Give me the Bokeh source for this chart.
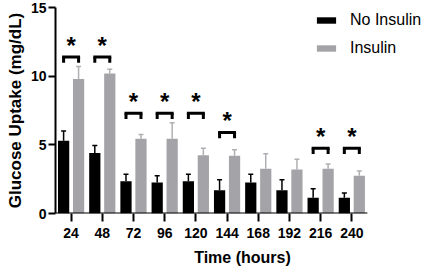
from bokeh.plotting import figure
from bokeh.models import ColumnDataSource, Range1d, Whisker, TeeHead, FixedTicker, Legend, LegendItem
from bokeh.transform import dodge
from bokeh.embed import file_html
from bokeh.resources import INLINE
from bokeh.core.properties import value

times = ["24", "48", "72", "96", "120", "144", "168", "192", "216", "240"]
no_insulin = [5.3, 4.4, 2.35, 2.25, 2.35, 1.7, 2.25, 1.7, 1.15, 1.15]
no_insulin_err = [0.7, 0.55, 0.5, 0.5, 0.5, 0.75, 0.6, 0.75, 0.65, 0.35]
insulin = [9.8, 10.2, 5.45, 5.45, 4.25, 4.2, 3.25, 3.2, 3.25, 2.75]
insulin_err = [0.9, 0.3, 0.3, 1.15, 0.5, 0.45, 1.1, 0.75, 0.35, 0.35]
sig_times = ["24", "48", "72", "96", "120", "144", "216", "240"]
sig_levels = [11.4, 11.4, 7.3, 7.3, 7.3, 5.9, 4.75, 4.75]
y_ticks = [0, 5, 10, 15]

BLACK = "#000000"
GRAY = "#a4a4a8"
GRAY_ERR = "#b0b0b4"
FONT = "Liberation Sans"
OFF = 0.24
BAR_W = 0.36

idx = list(range(len(times)))
pos = {t: i for i, t in enumerate(times)}

src = ColumnDataSource(dict(
    i=idx,
    no=no_insulin,
    no_up=[v + e for v, e in zip(no_insulin, no_insulin_err)],
    ins=insulin,
    ins_up=[v + e for v, e in zip(insulin, insulin_err)],
))
sig = ColumnDataSource(dict(
    i=[pos[t] for t in sig_times],
    lvl=sig_levels,
    leg=[v - 0.42 for v in sig_levels],
    star=[v + 0.85 for v in sig_levels],
    txt=["*"] * len(sig_times),
))

# frame spans to the right edge so the legend is not clipped; axis line drawn only under the categories
p = figure(width=429, height=270, output_backend="svg", toolbar_location=None,
           x_range=Range1d(-0.5, 11.49), y_range=Range1d(0, 15))
p.min_border_left = 55
p.min_border_right = 0
p.min_border_top = 7
p.min_border_bottom = 57
p.outline_line_color = None
p.grid.grid_line_color = None
p.background_fill_color = "white"
p.border_fill_color = "white"

r_no = p.vbar(x=dodge("i", -OFF), top="no", width=BAR_W, source=src,
              fill_color=BLACK, line_color=None)
r_ins = p.vbar(x=dodge("i", OFF), top="ins", width=BAR_W, source=src,
               fill_color=GRAY, line_color=None)

w1 = Whisker(base=dodge("i", -OFF), lower="no", upper="no_up", source=src,
             line_color=BLACK, line_width=1.5, lower_head=None,
             upper_head=TeeHead(size=5, line_color=BLACK, line_width=1.5))
w2 = Whisker(base=dodge("i", OFF), lower="ins", upper="ins_up", source=src,
             line_color=GRAY_ERR, line_width=1.5, lower_head=None,
             upper_head=TeeHead(size=5, line_color=GRAY_ERR, line_width=1.5))
p.add_layout(w1)
p.add_layout(w2)

# x axis baseline under the categories
p.segment(x0=[idx[0] - 0.5], x1=[idx[-1] + 0.5], y0=[0], y1=[0], line_color=BLACK, line_width=2)

# significance brackets
p.segment(x0=dodge("i", -OFF), x1=dodge("i", OFF),
          y0="lvl", y1="lvl", source=sig, line_color=BLACK, line_width=3, line_cap="square")
p.segment(x0=dodge("i", -OFF), x1=dodge("i", -OFF),
          y0="lvl", y1="leg", source=sig, line_color=BLACK, line_width=3)
p.segment(x0=dodge("i", OFF), x1=dodge("i", OFF),
          y0="lvl", y1="leg", source=sig, line_color=BLACK, line_width=3)
p.text(x="i", y="star", text="txt", source=sig, text_font=value(FONT), text_font_style="bold",
       text_font_size="24px", text_align="center", text_baseline="middle", text_color=BLACK)

# axes
for ax in (p.xaxis[0], p.yaxis[0]):
    ax.axis_line_width = 2
    ax.axis_line_color = BLACK
    ax.major_tick_line_width = 2
    ax.major_tick_line_color = BLACK
    ax.minor_tick_line_color = None
    ax.major_label_text_font = FONT
    ax.major_label_text_font_style = "bold"
    ax.major_label_text_font_size = "14px"
    ax.major_label_text_color = BLACK
    ax.axis_label_text_font = FONT
    ax.axis_label_text_font_style = "bold"
    ax.axis_label_text_color = BLACK

p.xaxis.axis_line_color = None
p.xaxis.ticker = FixedTicker(ticks=idx)
p.xaxis.major_label_overrides = {i: t for i, t in zip(idx, times)}
p.xaxis.axis_label = "Time (hours)"
p.xaxis.axis_label_text_font_size = "16px"
p.xaxis.major_tick_out = 8
p.xaxis.major_tick_in = 0
p.xaxis.major_label_standoff = 6
p.xaxis.axis_label_standoff = 8

p.yaxis.axis_label = "Glucose Uptake (mg/dL)"
p.yaxis.axis_label_text_font_size = "17px"
p.yaxis.ticker = FixedTicker(ticks=y_ticks)
p.yaxis.major_tick_out = 7
p.yaxis.major_tick_in = 0
p.yaxis.major_label_standoff = 2
p.yaxis.axis_label_standoff = 3

legend = Legend(items=[LegendItem(label="No Insulin", renderers=[r_no]),
                       LegendItem(label="Insulin", renderers=[r_ins])],
                location=(259, 156), orientation="vertical",
                glyph_width=24, glyph_height=8, label_height=18, spacing=10,
                label_standoff=12, padding=0, margin=0,
                border_line_color=None, background_fill_alpha=0,
                label_text_font=FONT, label_text_font_size="16px", label_text_color=BLACK)
p.add_layout(legend, "center")

open("out.html", "w").write(file_html(p, INLINE))
